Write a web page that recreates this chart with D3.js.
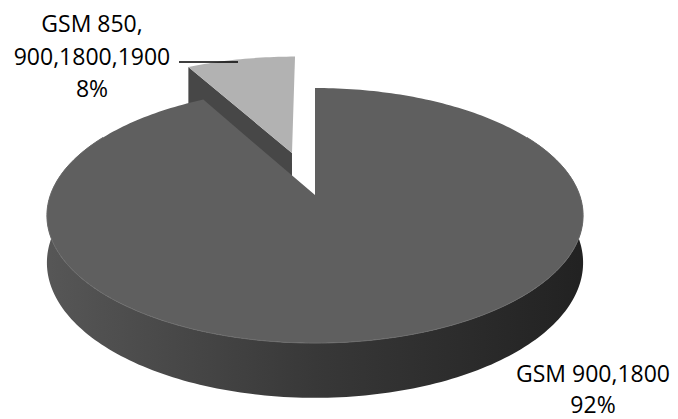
<!DOCTYPE html>
<html>
<head>
<meta charset="utf-8">
<script src="https://cdn.jsdelivr.net/npm/d3@7"></script>
<style>
  body { margin: 0; background: #fff; }
  text { font-family: "Open Sans", sans-serif; font-size: 23px; fill: #000; }
</style>
</head>
<body>
<div id="chart"></div>
<script>
// data
var labels = ["GSM 900,1800", "GSM 850, 900,1800,1900"];
var values = [92, 8];
var labelLines = [["GSM 900,1800", "92%"], ["GSM 850,", "900,1800,1900", "8%"]];

var width = 678, height = 419;

var svg = d3.select("#chart")
  .append("svg")
    .attr("width", width)
    .attr("height", height);

// projection of the tilted disc (u right, v towards viewer, z down through thickness)
var k = 0.161, depth = 0.37, explode = 0.37;
var xScale = d3.scaleLinear().domain([-1, 1]).range([315 - 264.6, 315 + 264.6]);
var yScale = d3.scaleLinear().domain([-1, 1]).range([195 - 124.2, 195 + 124.2]);

function proj(u, v, z) {
  var w = 1 - k * v;
  return [xScale(u / w), yScale((v + depth * z) / w)];
}
function rim(a, off, z) {
  return proj(off[0] + Math.sin(a), off[1] - Math.cos(a), z);
}
function arcPts(a0, a1, off, z) {
  var n = Math.max(4, Math.ceil(Math.abs(a1 - a0) / 0.02)), pts = [];
  for (var i = 0; i <= n; i++) pts.push(rim(a0 + (a1 - a0) * i / n, off, z));
  return pts;
}

var pie = d3.pie().sort(null).value(function(d) { return d; });
var arcs = pie(values);

arcs.forEach(function(d, i) {
  var mid = (d.startAngle + d.endAngle) / 2;
  d.off = i === 1 ? [explode * Math.sin(mid), -explode * Math.cos(mid)] : [0, 0];
});

var line = d3.line();

// gradient for the outer wall
var grad = svg.append("defs").append("linearGradient")
  .attr("id", "wall")
  .attr("gradientUnits", "userSpaceOnUse")
  .attr("x1", xScale(-1)).attr("x2", xScale(1))
  .attr("y1", 0).attr("y2", 0);
grad.append("stop").attr("offset", "0%").attr("stop-color", "#565656");
grad.append("stop").attr("offset", "50%").attr("stop-color", "#383838");
grad.append("stop").attr("offset", "100%").attr("stop-color", "#222222");

// exploded slice (behind)
var s = arcs[1];
var apexT = proj(s.off[0], s.off[1], 0), apexB = proj(s.off[0], s.off[1], 1);
svg.append("path")
  .attr("d", line([apexT, rim(s.startAngle, s.off, 0), rim(s.startAngle, s.off, 1), apexB]) + "Z")
  .attr("fill", "#474747");
svg.append("path")
  .attr("d", line([apexT].concat(arcPts(s.startAngle, s.endAngle, s.off, 0))) + "Z")
  .attr("fill", "#b2b2b2");

// main slice
var m = arcs[0];
var a0 = Math.max(m.startAngle, Math.PI / 3), a1 = Math.min(m.endAngle, Math.PI * 5 / 3);
var wallTop = arcPts(a0, a1, m.off, 0), wallBot = arcPts(a0, a1, m.off, 1).reverse();
svg.append("path")
  .attr("d", line(wallTop.concat(wallBot)) + "Z")
  .attr("fill", "url(#wall)");
svg.append("path")
  .attr("d", line([proj(0, 0, 0)].concat(arcPts(m.startAngle, m.endAngle, m.off, 0))) + "Z")
  .attr("fill", "#5f5f5f");
svg.append("path")
  .attr("d", line(wallTop))
  .attr("fill", "none")
  .attr("stroke", "#6c6c6c")
  .attr("stroke-width", 1);

// labels
var lab = svg.append("g");
lab.append("text")
  .attr("x", 593).attr("y", 382)
  .attr("text-anchor", "middle")
  .selectAll("tspan")
  .data(labelLines[0])
  .enter().append("tspan")
    .attr("x", 593)
    .attr("dy", function(d, i) { return i ? 31 : 0; })
    .text(function(d) { return d; });

lab.append("text")
  .attr("x", 92).attr("y", 32)
  .attr("text-anchor", "middle")
  .selectAll("tspan")
  .data(labelLines[1])
  .enter().append("tspan")
    .attr("x", 92)
    .attr("dy", function(d, i) { return i ? 32.5 : 0; })
    .text(function(d) { return d; });

lab.append("line")
  .attr("x1", 179).attr("x2", 238)
  .attr("y1", 62).attr("y2", 62)
  .attr("stroke", "#000")
  .attr("stroke-width", 1.5);
</script>
</body>
</html>
